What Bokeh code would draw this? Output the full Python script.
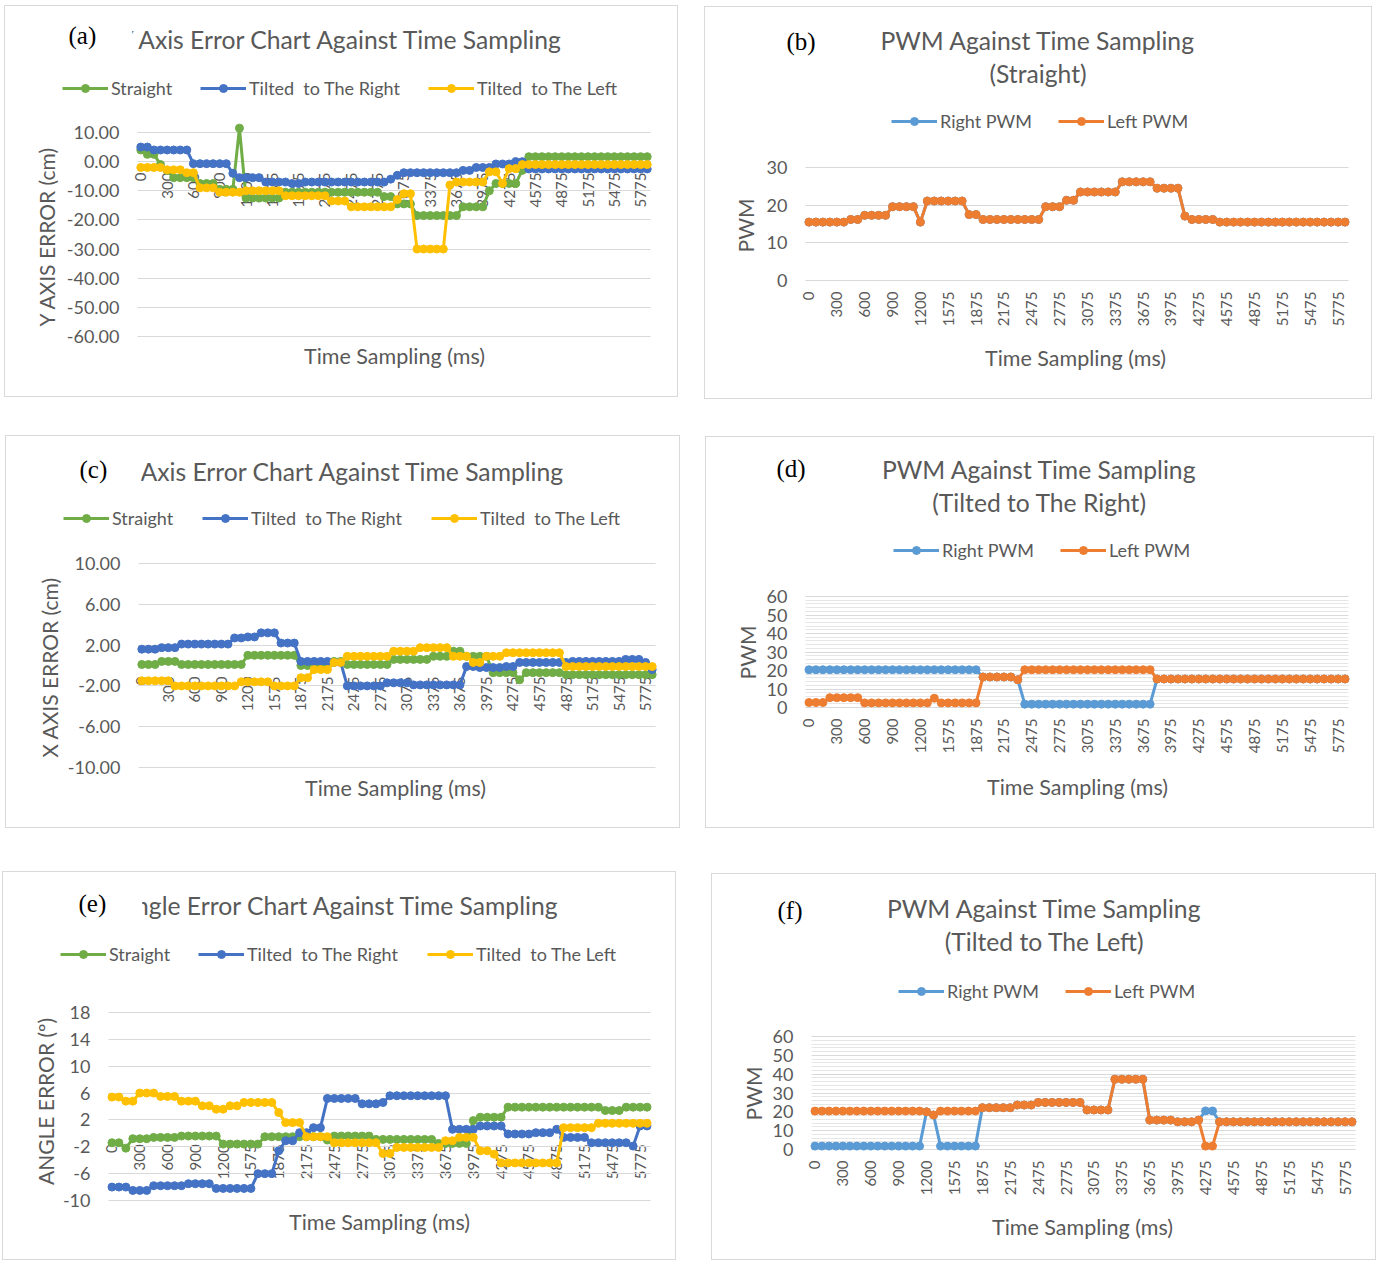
import math
from bokeh.plotting import figure
from bokeh.models import Range1d, FixedTicker, Label, Legend, LegendItem, NumeralTickFormatter
from bokeh.layouts import column, row
from bokeh.embed import file_html
from bokeh.resources import INLINE

# ---------------- data ----------------
TIMES = [0, 75, 150, 225, 300, 375, 450, 525, 600, 675,
         750, 825, 900, 975, 1050, 1125, 1200, 1275, 1350, 1425,
         1575, 1650, 1725, 1800, 1875, 1950, 2025, 2100, 2175, 2250,
         2325, 2400, 2475, 2550, 2625, 2700, 2775, 2850, 2925, 3000,
         3075, 3150, 3225, 3300, 3375, 3450, 3525, 3600, 3675, 3750,
         3825, 3900, 3975, 4050, 4125, 4200, 4275, 4350, 4425, 4500,
         4575, 4650, 4725, 4800, 4875, 4950, 5025, 5100, 5175, 5250,
         5325, 5400, 5475, 5550, 5625, 5700, 5775, 5850]
X_TICK_IDX = [0, 4, 8, 12, 16, 20, 24, 28, 32, 36, 40, 44, 48, 52, 56, 60, 64, 68, 72, 76]

# (a) Y axis error (cm)
YERR_STRAIGHT = [4, 2.5, 2.5, -1, -3, -5.5, -5.5, -5.5, -5.5, -7.5,
                 -7.5, -7.5, -9.5, -9.5, -9.5, 11.5, -12.5, -12.5, -12.5, -12.5,
                 -12.5, -12.5, -10.5, -10.5, -10.5, -10.5, -10.5, -10.5, -10.5, -10.5,
                 -10.5, -10.5, -10.5, -10.5, -10.5, -10.5, -10.5, -12, -12, -14.5,
                 -14.5, -14.5, -18.5, -18.5, -18.5, -18.5, -18.5, -18.5, -18.5, -15.5,
                 -15.5, -15.5, -15.5, -10, -7.5, -7.5, -7.5, -7.5, -3, 1.7,
                 1.7, 1.7, 1.7, 1.7, 1.7, 1.7, 1.7, 1.7, 1.7, 1.7,
                 1.7, 1.7, 1.7, 1.7, 1.7, 1.7, 1.7, 1.7]
YERR_RIGHT = [5, 5, 4, 4, 4, 4, 4, 4, -0.7, -0.7,
              -0.7, -0.7, -0.7, -0.7, -4, -5.5, -5.5, -5.5, -5.5, -7,
              -7, -7, -7, -7.5, -7.5, -7, -7, -7, -7, -7,
              -7, -7, -7, -7, -7, -7, -7, -7, -6, -4.7,
              -3.8, -3.8, -3.8, -3.8, -3.8, -3.8, -3.8, -3.8, -3.8, -3,
              -3, -2, -2, -2, -0.8, -0.8, -0.8, 0, 0, -2.5,
              -2.5, -2.5, -2.5, -2.5, -2.5, -2.5, -2.5, -2.5, -2.5, -2.5,
              -2.5, -2.5, -2.5, -2.5, -2.5, -2.5, -2.5, -2.5]
YERR_LEFT = [-2, -2, -2, -2, -2.8, -2.8, -2.8, -3.8, -3.8, -9,
             -9, -9, -10.5, -10.5, -10.5, -10.5, -10, -10, -10, -10,
             -10, -10, -11.7, -11.7, -11.7, -11.7, -11.7, -11.7, -11.7, -13.5,
             -13.5, -13.5, -15.5, -15.5, -15.5, -15.5, -15.5, -15.5, -15.5, -13,
             -11, -11, -30, -30, -30, -30, -30, -8, -7, -7,
             -7, -7, -7, -3.5, -3.5, -7.5, -2.4, -2.4, -1, -1,
             -1, -1, -1, -1, -1, -1, -1, -1, -1, -1,
             -1, -1, -1, -1, -1, -1, -1, -1]

# (b) PWM, straight
PWM_S_RIGHT = [15.5, 15.5, 15.5, 15.5, 15.5, 15.5, 16.2, 16.2, 17.3, 17.3,
               17.3, 17.3, 19.6, 19.6, 19.6, 19.6, 15.5, 21.1, 21.1, 21.1,
               21.1, 21.1, 21.1, 17.5, 17.5, 16.2, 16.2, 16.2, 16.2, 16.2,
               16.2, 16.2, 16.2, 16.2, 19.6, 19.6, 19.6, 21.3, 21.3, 23.5,
               23.5, 23.5, 23.5, 23.5, 23.5, 26.2, 26.2, 26.2, 26.2, 26.2,
               24.5, 24.5, 24.5, 24.5, 17.1, 16.2, 16.2, 16.2, 16.2, 15.5,
               15.5, 15.5, 15.5, 15.5, 15.5, 15.5, 15.5, 15.5, 15.5, 15.5,
               15.5, 15.5, 15.5, 15.5, 15.5, 15.5, 15.5, 15.5]
PWM_S_LEFT = [15.5, 15.5, 15.5, 15.5, 15.5, 15.5, 16.2, 16.2, 17.3, 17.3,
              17.3, 17.3, 19.6, 19.6, 19.6, 19.6, 15.5, 21.1, 21.1, 21.1,
              21.1, 21.1, 21.1, 17.5, 17.5, 16.2, 16.2, 16.2, 16.2, 16.2,
              16.2, 16.2, 16.2, 16.2, 19.6, 19.6, 19.6, 21.3, 21.3, 23.5,
              23.5, 23.5, 23.5, 23.5, 23.5, 26.2, 26.2, 26.2, 26.2, 26.2,
              24.5, 24.5, 24.5, 24.5, 17.1, 16.2, 16.2, 16.2, 16.2, 15.5,
              15.5, 15.5, 15.5, 15.5, 15.5, 15.5, 15.5, 15.5, 15.5, 15.5,
              15.5, 15.5, 15.5, 15.5, 15.5, 15.5, 15.5, 15.5]

# (c) X axis error (cm)
XERR_STRAIGHT = [0.1, 0.1, 0.1, 0.4, 0.4, 0.4, 0.1, 0.1, 0.1, 0.1,
                 0.1, 0.1, 0.1, 0.1, 0.1, 0.1, 1.0, 1.0, 1.0, 1.0,
                 1.0, 1.0, 1.0, 1.0, 0.0, 0.0, 0.0, 0.0, 0.0, 0.4,
                 0.4, 0.1, 0.1, 0.1, 0.1, 0.1, 0.1, 0.1, 0.6, 0.6,
                 0.6, 0.6, 0.6, 0.6, 0.9, 0.9, 0.9, 1.4, 1.4, 0.9,
                 0.9, 0.9, 0.9, -0.7, -0.7, -0.7, -0.7, -1.4, -0.7, -0.7,
                 -0.7, -0.7, -0.7, -0.7, -0.9, -0.9, -0.9, -0.9, -0.9, -0.9,
                 -0.9, -0.9, -0.9, -0.9, -0.9, -0.9, -0.9, -0.9]
XERR_RIGHT = [1.6, 1.6, 1.6, 1.75, 1.75, 1.75, 2.1, 2.1, 2.1, 2.1,
              2.1, 2.1, 2.1, 2.1, 2.7, 2.7, 2.8, 2.8, 3.2, 3.2,
              3.2, 2.2, 2.2, 2.2, 0.4, 0.4, 0.4, 0.4, 0.4, 0.3,
              0.3, -2.0, -2.0, -2.0, -2.0, -2.0, -2.0, -1.7, -1.7, -1.7,
              -1.7, -1.9, -1.9, -1.9, -1.9, -1.9, -1.9, -1.9, -1.9, -0.1,
              -0.1, -0.2, -0.2, -0.2, -0.2, -0.1, -0.1, 0.3, 0.3, 0.3,
              0.3, 0.3, 0.3, 0.3, 0.3, 0.4, 0.4, 0.4, 0.4, 0.4,
              0.4, 0.4, 0.4, 0.6, 0.6, 0.6, 0.3, -0.4]
XERR_LEFT = [-1.5, -1.5, -1.5, -1.5, -1.5, -2.0, -2.0, -2.0, -2.0, -2.0,
             -2.0, -2.0, -2.0, -2.0, -2.0, -1.6, -1.6, -1.6, -1.6, -1.6,
             -2.0, -2.0, -2.0, -2.0, -1.2, -1.2, -0.4, -0.4, -0.4, 0.3,
             0.3, 0.9, 0.9, 0.9, 0.9, 0.9, 0.9, 0.9, 1.4, 1.4,
             1.4, 1.4, 1.75, 1.75, 1.75, 1.75, 1.75, 0.9, 0.9, 0.9,
             0.3, 0.3, 0.9, 0.9, 0.9, 1.25, 1.25, 1.25, 1.25, 1.25,
             1.25, 1.25, 1.25, 1.25, -0.1, -0.1, -0.1, -0.1, -0.1, -0.1,
             -0.1, -0.1, -0.1, -0.1, -0.1, -0.1, -0.1, -0.1]

# (d) PWM, tilted to the right
PWM_R_RIGHT = [20.4, 20.4, 20.4, 20.4, 20.4, 20.4, 20.4, 20.4, 20.4, 20.4,
               20.4, 20.4, 20.4, 20.4, 20.4, 20.4, 20.4, 20.4, 20.4, 20.4,
               20.4, 20.4, 20.4, 20.4, 20.4, 16.5, 16.5, 16.5, 16.5, 16.5,
               15, 1.8, 1.8, 1.8, 1.8, 1.8, 1.8, 1.8, 1.8, 1.8,
               1.8, 1.8, 1.8, 1.8, 1.8, 1.8, 1.8, 1.8, 1.8, 1.8,
               15.4, 15.4, 15.4, 15.4, 15.4, 15.4, 15.4, 15.4, 15.4, 15.4,
               15.4, 15.4, 15.4, 15.4, 15.4, 15.4, 15.4, 15.4, 15.4, 15.4,
               15.4, 15.4, 15.4, 15.4, 15.4, 15.4, 15.4, 15.4]
PWM_R_LEFT = [2.7, 2.7, 2.7, 5.3, 5.3, 5.3, 5.3, 5.3, 2.5, 2.5,
              2.5, 2.5, 2.5, 2.5, 2.5, 2.5, 2.5, 2.5, 5, 2.5,
              2.5, 2.5, 2.5, 2.5, 2.5, 16.5, 16.5, 16.5, 16.5, 16.5,
              15, 20.4, 20.4, 20.4, 20.4, 20.4, 20.4, 20.4, 20.4, 20.4,
              20.4, 20.4, 20.4, 20.4, 20.4, 20.4, 20.4, 20.4, 20.4, 20.4,
              15.4, 15.4, 15.4, 15.4, 15.4, 15.4, 15.4, 15.4, 15.4, 15.4,
              15.4, 15.4, 15.4, 15.4, 15.4, 15.4, 15.4, 15.4, 15.4, 15.4,
              15.4, 15.4, 15.4, 15.4, 15.4, 15.4, 15.4, 15.4]

# (e) Angle error (deg)
AERR_STRAIGHT = [-1.4, -1.4, -2.2, -0.8, -0.8, -0.8, -0.6, -0.6, -0.6, -0.6,
                 -0.4, -0.4, -0.4, -0.4, -0.4, -0.4, -1.6, -1.6, -1.6, -1.6,
                 -1.6, -1.6, -0.5, -0.5, -0.5, -0.5, -0.5, -0.5, -0.5, -0.5,
                 -0.5, -1.0, -0.4, -0.4, -0.4, -0.4, -0.4, -0.4, -0.9, -0.9,
                 -0.9, -0.9, -0.9, -0.9, -0.9, -0.9, -0.9, -1.5, -1.5, -1.5,
                 -1.5, -1.5, 1.9, 2.4, 2.4, 2.4, 2.4, 3.9, 3.9, 3.9,
                 3.9, 3.9, 3.9, 3.9, 3.9, 3.9, 3.9, 3.9, 3.9, 3.9,
                 3.9, 3.4, 3.4, 3.4, 3.9, 3.9, 3.9, 3.9]
AERR_RIGHT = [-8.0, -8.0, -8.0, -8.5, -8.5, -8.5, -7.8, -7.8, -7.8, -7.8,
              -7.8, -7.5, -7.5, -7.5, -7.5, -8.2, -8.2, -8.2, -8.2, -8.2,
              -8.2, -6.0, -6.0, -6.0, -2.6, -1.1, -1.1, 0.1, 0.1, 0.85,
              0.85, 5.2, 5.2, 5.2, 5.2, 5.2, 4.4, 4.4, 4.4, 4.6,
              5.6, 5.6, 5.6, 5.6, 5.6, 5.6, 5.6, 5.6, 5.6, 0.6,
              0.6, 0.6, 0.6, 1.1, 1.1, 1.1, 1.1, -0.1, -0.1, -0.1,
              -0.1, 0.1, 0.1, 0.1, 0.6, -0.6, -0.6, -0.6, -0.6, -1.4,
              -1.4, -1.4, -1.4, -1.4, -1.4, -1.9, 1.1, 1.1]
AERR_LEFT = [5.4, 5.4, 4.8, 4.8, 6.0, 6.0, 6.0, 5.5, 5.5, 5.5,
             4.8, 4.8, 4.8, 4.1, 4.1, 3.6, 3.6, 4.1, 4.1, 4.6,
             4.6, 4.6, 4.6, 4.6, 3.1, 1.6, 1.6, 1.6, -0.5, -0.5,
             -0.5, -0.5, -1.4, -1.4, -1.4, -1.4, -1.4, -1.4, -1.4, -3.0,
             -3.0, -2.1, -2.1, -2.1, -2.1, -2.1, -2.1, -2.1, -1.1, -1.1,
             -0.6, -0.6, -0.6, -2.6, -2.6, -3.1, -4.4, -4.4, -4.4, -4.4,
             -4.4, -4.4, -4.4, -4.4, -4.4, 0.85, 0.85, 0.85, 0.85, 0.85,
             1.5, 1.5, 1.5, 1.5, 1.5, 1.5, 1.5, 1.5]

# (f) PWM, tilted to the left
PWM_L_RIGHT = [1.8, 1.8, 1.8, 1.8, 1.8, 1.8, 1.8, 1.8, 1.8, 1.8,
               1.8, 1.8, 1.8, 1.8, 1.8, 1.8, 20, 18.3, 1.8, 1.8,
               1.8, 1.8, 1.8, 1.8, 22.2, 22.2, 22.2, 22.2, 22.2, 23.6,
               23.6, 23.6, 25, 25, 25, 25, 25, 25, 25, 21,
               21, 21, 21, 37.3, 37.3, 37.3, 37.3, 37.3, 15.6, 15.6,
               15.6, 15.6, 14.7, 14.7, 14.7, 15.6, 20.5, 20.5, 14.7, 14.7,
               14.7, 14.7, 14.7, 14.7, 14.7, 14.7, 14.7, 14.7, 14.7, 14.7,
               14.7, 14.7, 14.7, 14.7, 14.7, 14.7, 14.7, 14.7]
PWM_L_LEFT = [20.4, 20.4, 20.4, 20.4, 20.4, 20.4, 20.4, 20.4, 20.4, 20.4,
              20.4, 20.4, 20.4, 20.4, 20.4, 20.4, 20, 18.3, 20.4, 20.4,
              20.4, 20.4, 20.4, 20.4, 22.2, 22.2, 22.2, 22.2, 22.2, 23.6,
              23.6, 23.6, 25, 25, 25, 25, 25, 25, 25, 21,
              21, 21, 21, 37.3, 37.3, 37.3, 37.3, 37.3, 15.6, 15.6,
              15.6, 15.6, 14.7, 14.7, 14.7, 15.6, 1.8, 1.8, 14.7, 14.7,
              14.7, 14.7, 14.7, 14.7, 14.7, 14.7, 14.7, 14.7, 14.7, 14.7,
              14.7, 14.7, 14.7, 14.7, 14.7, 14.7, 14.7, 14.7]

ERR_LABELS = ["Straight", "Tilted  to The Right", "Tilted  to The Left"]
PWM_LABELS = ["Right PWM", "Left PWM"]

# ---------------- style ----------------
GREEN, BLUE, YELLOW = "#70AD47", "#4472C4", "#FFC000"
RIGHT_C, LEFT_C = "#5B9BD5", "#ED7D31"
GRAY = "#595959"
GRID = "#D9D9D9"
MINOR = "#E6E6E6"
FONT = "Lato"
SERIF = "Liberation Serif"
TITLE_PX = 24.7
XTITLE_PX = 21.5

IDX = list(range(len(TIMES)))
N = len(TIMES)


def make_panel(cx, cy, w, h, fl, fr, ytp, ybp, yt, yb, ticks, fmt, minor=None, margin=(0, 0, 0, 0)):
    # The frame fills the whole canvas; the plot area [fl, fr] x [ytp, ybp] (page pixels)
    # is obtained through the ranges, and axes are pinned at fixed data locations.
    ppx = (fr - fl) / N
    x0 = -0.5 - (fl - cx) / ppx
    x1 = N - 0.5 + (cx + w - fr) / ppx
    ppu = (ybp - ytp) / (yt - yb)
    y1 = yt + (ytp - cy) / ppu
    y0 = yb - (cy + h - ybp) / ppu
    p = figure(width=w, height=h, output_backend="svg", toolbar_location=None,
               x_range=Range1d(x0, x1), y_range=Range1d(y0, y1), min_border=0)
    p.title.visible = False
    p.outline_line_color = None
    p.background_fill_color = "white"
    p.border_fill_color = "white"
    p.xgrid.visible = False
    yt_ = FixedTicker(ticks=ticks, minor_ticks=minor or [])
    p.yaxis.ticker = yt_
    p.ygrid.ticker = yt_
    p.ygrid.grid_line_color = GRID
    p.ygrid.grid_line_width = 1
    p.ygrid.cross_bounds = (-0.5, N - 0.5)
    if minor:
        p.ygrid.minor_grid_line_color = MINOR
    p.yaxis.formatter = NumeralTickFormatter(format=fmt)
    for ax in (p.xaxis[0], p.yaxis[0]):
        ax.axis_line_color = None
        ax.major_tick_line_color = None
        ax.minor_tick_line_color = None
        ax.major_tick_out = 0
        ax.major_tick_in = 0
        ax.minor_tick_out = 0
        ax.major_label_text_color = GRAY
        ax.major_label_text_font = FONT
        ax.level = "underlay"
    p.yaxis.major_label_text_font_size = "18px"
    p.yaxis.major_label_standoff = 18
    p.yaxis.fixed_location = -0.5
    p.xaxis.ticker = FixedTicker(ticks=X_TICK_IDX)
    p.xaxis.major_label_overrides = {i: str(TIMES[i]) for i in X_TICK_IDX}
    p.xaxis.major_label_orientation = math.pi / 2
    p.xaxis.major_label_text_font_size = "15px"
    p.xaxis.fixed_location = 0
    p.xaxis.major_label_standoff = 11
    p.styles = {"border": "1px solid #D9D9D9"}
    p.margin = margin
    return p, cx, cy + h


def series(p, vals, color):
    lr = p.line(IDX, vals, line_color=color, line_width=3, line_join="round")
    sr = p.scatter(IDX, vals, size=8, marker="circle", fill_color=color, line_color=color)
    return [lr, sr]


def txt(panel, X, Y, text, size, align="center", color=GRAY, font=FONT, angle=0.0):
    p, fl, fb = panel
    p.add_layout(Label(x=X - fl, y=fb - Y, x_units="screen", y_units="screen", text=text,
                       text_font=font, text_font_size=f"{size}px", text_color=color,
                       text_align=align, text_baseline="middle", angle=angle))


def letter(panel, X, Y, text, cover=0):
    p, fl, fb = panel
    kw = {}
    if cover:
        kw = dict(background_fill_color="white", padding=dict(left=0, right=cover, top=4, bottom=4))
    p.add_layout(Label(x=X - fl, y=fb - Y, x_units="screen", y_units="screen", text=text,
                       text_font=SERIF, text_font_size="25px", text_color="black",
                       text_align="left", text_baseline="middle", **kw))


def legend(panel, label, rends, gx, gy):
    p, fl, fb = panel
    lg = Legend(items=[LegendItem(label=label, renderers=rends)], location=(gx - fl, fb - gy - 10),
                orientation="horizontal", padding=0, margin=0, spacing=0,
                glyph_width=46, glyph_height=20, label_height=20, label_standoff=3,
                label_text_font=FONT, label_text_font_size="18px", label_text_color=GRAY,
                label_text_baseline="middle", background_fill_alpha=0, border_line_alpha=0)
    p.add_layout(lg)


def error_panel(geo, s, r, l, title, letter_txt, letter_pos, title_c, leg_x, leg_y, xt, yt, ytitle, cover):
    pan = make_panel(**geo)
    p = pan[0]
    rs = series(p, s, GREEN)
    rr = series(p, r, BLUE)
    rl = series(p, l, YELLOW)
    txt(pan, title_c[0], title_c[1], title, TITLE_PX)
    letter(pan, letter_pos[0], letter_pos[1], letter_txt, cover)
    for lab, rend, gx in zip(ERR_LABELS, (rs, rr, rl), leg_x):
        legend(pan, lab, rend, gx, leg_y)
    txt(pan, xt[0], xt[1], "Time Sampling (ms)", XTITLE_PX)
    txt(pan, yt[0], yt[1], ytitle, 21, angle=math.pi / 2)
    return p


def pwm_panel(geo, right, left, sub, letter_txt, letter_pos, title_x, title_y, leg_x, leg_y, xt, yt):
    pan = make_panel(**geo)
    p = pan[0]
    rr = series(p, right, RIGHT_C)
    rl = series(p, left, LEFT_C)
    txt(pan, title_x, title_y, "PWM Against Time Sampling", TITLE_PX)
    txt(pan, title_x, title_y + 33, sub, TITLE_PX)
    letter(pan, letter_pos[0], letter_pos[1], letter_txt)
    for lab, rend, gx in zip(PWM_LABELS, (rr, rl), leg_x):
        legend(pan, lab, rend, gx, leg_y)
    txt(pan, xt[0], xt[1], "Time Sampling (ms)", XTITLE_PX)
    txt(pan, yt[0], yt[1], "PWM", 21, angle=math.pi / 2)
    return p


PWM_TICKS = [0, 10, 20, 30, 40, 50, 60]
PWM_MINOR = [v for v in range(0, 61, 2) if v % 10]

# figure boxes (border-box): width/height include the 1px border
fa = error_panel(dict(cx=5, cy=6, w=674, h=392, fl=137, fr=650, ytp=132, ybp=336, yt=10, yb=-60,
                      ticks=[-60, -50, -40, -30, -20, -10, 0, 10], fmt="0.00", margin=(5, 0, 0, 4)),
                 YERR_STRAIGHT, YERR_RIGHT, YERR_LEFT, "Y Axis Error Chart Against Time Sampling",
                 "(a)", (68, 35), (341, 39), [62, 200, 428], 89, (394, 355), (46, 236),
                 "Y AXIS ERROR (cm)", 36)

fb_ = pwm_panel(dict(cx=705, cy=7, w=668, h=393, fl=805, fr=1348, ytp=167, ybp=280, yt=30, yb=0,
                     ticks=[0, 10, 20, 30], fmt="0", margin=(6, 0, 0, 26)),
                PWM_S_RIGHT, PWM_S_LEFT, "(Straight)", "(b)", (786, 41), 1037.5, 40,
                [891, 1058], 122, (1075, 357), (745, 225))

fc = error_panel(dict(cx=6, cy=436, w=675, h=393, fl=138, fr=655, ytp=563, ybp=767, yt=10, yb=-10,
                      ticks=[-10, -6, -2, 2, 6, 10], fmt="0.00", margin=(36, 0, 0, 5)),
                 XERR_STRAIGHT, XERR_RIGHT, XERR_LEFT, "X Axis Error Chart Against Time Sampling",
                 "(c)", (79, 469), (342, 471), [63, 202, 431], 519, (395, 787), (49, 667),
                 "X AXIS ERROR (cm)", 34)

fd = pwm_panel(dict(cx=706, cy=437, w=669, h=392, fl=805, fr=1348, ytp=596, ybp=707, yt=60, yb=0,
                    ticks=PWM_TICKS, minor=PWM_MINOR, fmt="0", margin=(37, 0, 0, 25)),
               PWM_R_RIGHT, PWM_R_LEFT, "(Tilted to The Right)", "(d)", (776, 468), 1039, 469,
               [893, 1060], 551, (1077, 786), (747, 652))

fe = error_panel(dict(cx=3, cy=872, w=674, h=389, fl=108, fr=650, ytp=1012, ybp=1200, yt=18, yb=-10,
                      ticks=[-10, -6, -2, 2, 6, 10, 14, 18], fmt="0", margin=(43, 0, 0, 2)),
                 AERR_STRAIGHT, AERR_RIGHT, AERR_LEFT, "Angle Error Chart Against Time Sampling",
                 "(e)", (78, 903), (338.5, 905), [60, 198, 427], 955, (379, 1221), (45, 1101),
                 "ANGLE ERROR (º)", 36)

ff = pwm_panel(dict(cx=712, cy=874, w=665, h=387, fl=811, fr=1355, ytp=1036, ybp=1149, yt=60, yb=0,
                    ticks=PWM_TICKS, minor=PWM_MINOR, fmt="0", margin=(45, 0, 0, 35)),
               PWM_L_RIGHT, PWM_L_LEFT, "(Tilted to The Left)", "(f)", (777, 910), 1044, 908,
               [898, 1065], 992, (1082, 1226), (753, 1093))

layout = column(row(fa, fb_), row(fc, fd), row(fe, ff))

for name, arr in list(globals().items()):
    if name.isupper() and isinstance(arr, list) and name not in ("X_TICK_IDX", "ERR_LABELS", "PWM_LABELS", "PWM_TICKS", "PWM_MINOR"):
        assert len(arr) == len(TIMES), (name, len(arr))

open("out.html", "w").write(file_html(layout, INLINE))
